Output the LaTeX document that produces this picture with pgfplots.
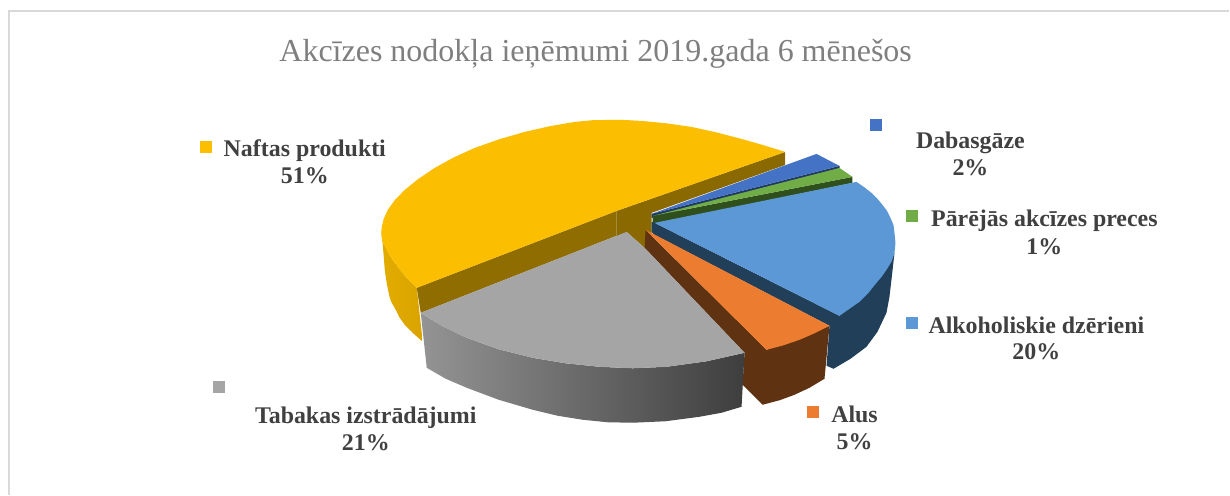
\documentclass[border=0pt]{standalone}
\usepackage{fontspec}
\setmainfont{Liberation Serif}
\usepackage{pgfplots}
\pgfplotsset{compat=1.18}
\definecolor{yel}{HTML}{FBBE00}
\definecolor{yeld}{HTML}{8F6D00}
\definecolor{yeld2}{HTML}{8A6900}
\definecolor{yelwa}{HTML}{E2AC00}
\definecolor{yelwb}{HTML}{DAA300}
\definecolor{dgb}{HTML}{4472C4}
\definecolor{dgbd}{HTML}{203864}
\definecolor{grn}{HTML}{70AD47}
\definecolor{grnd}{HTML}{2F4F1C}
\definecolor{lbl}{HTML}{5B98D5}
\definecolor{lbld}{HTML}{223F59}
\definecolor{org}{HTML}{EC7D30}
\definecolor{orgd}{HTML}{5F3212}
\definecolor{gry}{HTML}{A5A5A5}
\definecolor{grya}{HTML}{949494}
\definecolor{gryb}{HTML}{3E3E3E}
\definecolor{txt}{HTML}{404040}
\definecolor{ttl}{HTML}{7F7F7F}
\definecolor{frm}{HTML}{D9D9D9}
\tikzset{lab/.style={anchor=base,text=txt,align=center,font=\fontsize{23.9}{27}\selectfont\bfseries}}
\begin{document}
\begin{tikzpicture}
\begin{axis}[
  width=1230pt,height=495pt,scale only axis,
  xmin=0,xmax=1230,ymin=0,ymax=495,y dir=reverse,
  axis lines=none,clip=false,
  every axis plot/.append style={sharp plot,no markers,line width=0pt,draw=none}
]
% page
\addplot[fill=white] coordinates {(0,0)(1230,0)(1230,495)(0,495)} --cycle;
% frame
\addplot[draw=frm,line width=1.5pt] coordinates {(9,495)(9,11)(1230,11)};
% yellow outer wall
\addplot[left color=yelwa,right color=yelwb] coordinates {(381.5,232)(384,244)(390.5,256.5)(395,263)(405,276)(417,288)(423,342)(414,334)(405,325)(400,318)(396,310)(392,303)(390,298)(387,284)(385,270)(384,257)(383,245)} --cycle;
% yellow inner walls
\addplot[fill=yeld] coordinates {(417,288)(617,211)(617,240)(627,232)(421,313)} --cycle;
\addplot[fill=yeld2] coordinates {(617,211)(785.7,152)(785.7,165)(652,213)(652,240)(645,248)(627,232)(617,238)} --cycle;
% yellow top
\addplot[fill=yel] coordinates {(785.7,152)(764,145.3)(742,139)(717.4,132.6)(692,127)(666,123.3)(642,121)(623.9,120)(608,120)(592.5,120.3)(575,122)(551,126.1)(525,132)(499.4,139.4)(475,148)(453.8,157.6)(435,168)(418.6,179)(405,190)(395,200.3)(388,210)(383.9,219)(382,227)(381.5,232.5)(382,238)(384,244)(387,250)(390.5,256.5)(395,263)(405,276)(417,288)(617,211)} --cycle;
% dabasgaze
\addplot[fill=dgbd] coordinates {(652,214)(840,166)(840,169)(652,218)} --cycle;
\addplot[fill=dgb] coordinates {(652,214)(817,154)(840,166)} --cycle;
% other
\addplot[fill=grnd] coordinates {(653,216)(853,177)(853,183)(655,224)(653,224)} --cycle;
\addplot[fill=grn] coordinates {(653,216)(840,168)(853,177)} --cycle;
% alkoholiskie
\addplot[fill=lbld] coordinates {(652,222)(655,223)(840,316)(895,253)(892,280)(890,297)(887,313)(878,332)(867,347)(851,359)(834,369)(827,366)(830,326)(655,235)(652,232)} --cycle;
\addplot[fill=lbl] coordinates {(655,223)(857,182)(865,187.5)(872,193)(878,199)(883,205)(887.5,211)(891,218)(894,225)(895,233)(896,243)(895,253)(892,262)(887,270)(882.5,276.5)(877,283)(869,293)(860,302)(850,309)(840,316)} --cycle;
% alus
\addplot[fill=orgd] coordinates {(646,230)(767,350)(830,326)(825,379)(810,388)(795,395)(780,400.5)(763,405)(743,385)(745,353)(645,248)} --cycle;
\addplot[fill=org] coordinates {(646,230)(830,326)(815,333.5)(800,340)(784,345.5)(767,350)} --cycle;
% tabakas
\addplot[left color=grya,right color=gryb] coordinates {(421,313)(443,326.5)(467,338)(499,349.5)(533,358)(566,363.5)(600,367)(633,368.5)(667,367)(707,361.5)(745,353)(742,407)(722,413)(700,417)(666,421.5)(633,423)(608,422.5)(583,420)(558,416)(533,410)(499,400)(467,388)(446,379)(427,368)} --cycle;
\addplot[fill=gry] coordinates {(627,232)(646,249)(745,353)(707,361.5)(667,367)(633,368.5)(600,367)(566,363.5)(533,358)(499,349.5)(467,338)(443,326.5)(421,313)} --cycle;
% legend keys
\addplot[fill=yel] coordinates {(200,141)(212,141)(212,153)(200,153)} --cycle;
\addplot[fill=dgb] coordinates {(871,119.5)(883,119.5)(883,131.5)(871,131.5)} --cycle;
\addplot[fill=grn] coordinates {(907,210)(919,210)(919,222)(907,222)} --cycle;
\addplot[fill=lbl] coordinates {(906.5,317)(918.5,317)(918.5,329)(906.5,329)} --cycle;
\addplot[fill=org] coordinates {(807,406)(819,406)(819,418)(807,418)} --cycle;
\addplot[fill=gry] coordinates {(213,381)(225,381)(225,393)(213,393)} --cycle;
% text
\node[anchor=base,text=ttl,font=\fontsize{32}{36}\selectfont] at (axis cs:596,62) {Akcīzes nodokļa ieņēmumi 2019.gada 6 mēnešos};
\node[lab] at (axis cs:305,157) {Naftas produkti};
\node[lab] at (axis cs:305,184) {51\%};
\node[lab] at (axis cs:971,149) {Dabasgāze};
\node[lab] at (axis cs:971,176) {2\%};
\node[lab] at (axis cs:1045,227) {Pārējās akcīzes preces};
\node[lab] at (axis cs:1045,255) {1\%};
\node[lab] at (axis cs:1037,334) {Alkoholiskie dzērieni};
\node[lab] at (axis cs:1037,360) {20\%};
\node[lab] at (axis cs:855,423) {Alus};
\node[lab] at (axis cs:855,450) {5\%};
\node[lab] at (axis cs:366,424) {Tabakas izstrādājumi};
\node[lab] at (axis cs:366,451) {21\%};
\end{axis}
\end{tikzpicture}
\end{document}
